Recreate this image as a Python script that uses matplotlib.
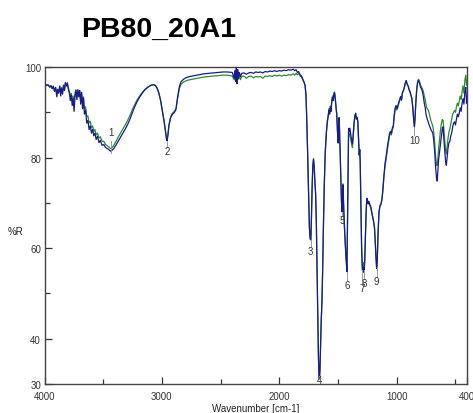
import numpy as np
import matplotlib
matplotlib.use("Agg")
import matplotlib.pyplot as plt
from matplotlib.ticker import FixedLocator

plt.rcParams['font.family'] = ['Liberation Sans', 'DejaVu Sans']

# --- spectrum data: wavenumber [cm-1] and %R for the two traces ---
wn_a = [4000, 3985, 3970, 3955, 3945, 3935, 3925, 3915, 3905, 3895, 3888, 3880, 3870, 3862, 3855, 3846,
        3838, 3830, 3822, 3812, 3805, 3796, 3788, 3780, 3772, 3764, 3756, 3748, 3740, 3732, 3724, 3716,
        3708, 3700, 3692, 3684, 3676, 3668, 3660, 3650, 3640, 3630, 3620, 3610, 3600, 3590, 3580, 3570,
        3560, 3548, 3536, 3524, 3510, 3495, 3480, 3465, 3450, 3437, 3425, 3410, 3390, 3370, 3350, 3330,
        3310, 3290, 3270, 3250, 3230, 3210, 3190, 3170, 3150, 3130, 3110, 3090, 3070, 3055, 3040, 3025]
blue_a = [96.2, 96.0, 96.1, 95.6, 95.9, 95.2, 95.8, 94.6, 95.5, 93.4, 95.0, 94.2, 95.8, 93.6, 95.4, 94.0,
          96.0, 94.8, 96.6, 95.8, 96.5, 95.0, 94.2, 92.6, 93.8, 91.5, 93.0, 90.2, 93.6, 94.8, 92.8, 94.9,
          93.4, 94.8, 91.8, 94.4, 90.8, 93.2, 89.6, 90.5, 87.6, 88.2, 86.2, 87.0, 85.4, 86.2, 84.8, 85.4,
          84.0, 84.7, 83.3, 83.8, 82.7, 82.9, 82.2, 82.0, 81.7, 81.4, 81.6, 82.0, 82.8, 83.7, 84.6, 85.5,
          86.4, 87.4, 88.6, 90.0, 91.3, 92.4, 93.3, 94.1, 94.8, 95.3, 95.7, 96.0, 96.1, 95.9, 95.3, 94.2]
green_a = [96.0, 95.9, 96.0, 95.5, 95.8, 95.3, 95.6, 94.9, 95.4, 94.0, 95.1, 94.5, 95.6, 94.2, 95.2, 94.6,
           95.8, 95.0, 96.3, 95.9, 96.2, 95.3, 94.6, 93.4, 94.2, 92.8, 93.6, 92.0, 94.2, 95.0, 93.6, 95.0,
           94.0, 94.8, 92.8, 94.3, 92.0, 93.4, 90.8, 91.2, 89.0, 89.2, 87.6, 88.0, 86.6, 87.0, 85.8, 86.2,
           85.0, 85.4, 84.3, 84.6, 83.6, 83.6, 82.9, 82.6, 82.3, 82.0, 82.2, 82.7, 83.6, 84.6, 85.5, 86.4,
           87.3, 88.3, 89.4, 90.7, 91.8, 92.8, 93.6, 94.3, 94.9, 95.4, 95.7, 96.0, 96.1, 95.9, 95.3, 94.2]

wn_b = [3010, 2995, 2980, 2970, 2962, 2955, 2948, 2940, 2925, 2910, 2895, 2880, 2865, 2850, 2835, 2815,
        2790, 2760, 2720, 2680, 2640, 2600, 2560, 2520, 2480, 2440, 2400, 2385, 2378, 2372, 2366, 2360,
        2354, 2348, 2340, 2330, 2320, 2300, 2280, 2260, 2240, 2220, 2200, 2180, 2160, 2140, 2120, 2100,
        2080, 2060, 2040, 2020, 2000, 1980, 1960, 1940, 1920, 1900, 1880, 1868, 1856, 1845, 1835, 1822,
        1810, 1800, 1790]
blue_b = [92.5, 90.2, 87.8, 85.8, 84.3, 83.7, 85.0, 87.0, 88.8, 89.6, 89.9, 90.6, 93.5, 95.8, 96.8, 97.3,
          97.7, 97.9, 98.1, 98.3, 98.5, 98.6, 98.7, 98.8, 98.9, 98.9, 98.8, 97.6, 99.2, 96.8, 100.6, 96.3,
          99.4, 97.5, 98.8, 97.9, 98.6, 98.7, 98.4, 98.7, 98.8, 98.6, 98.9, 98.8, 98.9, 98.7, 99.0, 98.9,
          99.1, 99.0, 99.2, 99.0, 99.2, 99.1, 99.3, 99.2, 99.4, 99.3, 99.5, 99.2, 99.4, 98.8, 99.0, 98.3,
          98.0, 97.4, 96.8]
green_b = [92.5, 90.3, 87.9, 86.0, 84.6, 84.0, 85.2, 87.2, 89.0, 89.8, 90.2, 90.8, 93.2, 95.3, 96.2, 96.7,
           97.0, 97.2, 97.4, 97.6, 97.8, 97.9, 98.0, 98.1, 98.2, 98.2, 98.0, 97.2, 98.4, 96.9, 99.3, 96.8,
           98.5, 97.3, 98.0, 97.2, 97.9, 98.0, 97.5, 97.9, 98.0, 97.6, 97.9, 97.8, 97.9, 97.5, 98.0, 97.9,
           98.1, 97.9, 98.2, 98.0, 98.2, 98.0, 98.2, 98.1, 98.3, 98.2, 98.5, 98.2, 98.6, 98.3, 98.6, 98.0,
           97.8, 97.2, 96.6]

wn_c = [1780, 1772, 1765, 1758, 1750, 1743, 1736, 1731, 1726, 1720, 1714, 1708, 1702, 1696, 1690, 1684,
        1678, 1672, 1666, 1661, 1657, 1653, 1648, 1642, 1636, 1630, 1624, 1616, 1608, 1598, 1590, 1582,
        1575, 1570, 1565, 1558, 1552, 1546, 1540, 1534, 1528, 1522, 1516, 1510, 1504, 1498, 1494, 1490,
        1486, 1480, 1474, 1470, 1466, 1462, 1457, 1451, 1445, 1437, 1430, 1423, 1416, 1409, 1405, 1398,
        1390, 1382, 1376, 1370, 1362, 1355, 1349, 1342, 1336, 1330, 1324, 1318, 1314, 1310, 1304, 1298,
        1292, 1287, 1282, 1277, 1272, 1266, 1260, 1254, 1248, 1242, 1236, 1228, 1220, 1212, 1204, 1196,
        1188, 1182, 1176, 1170, 1165, 1158, 1150, 1142, 1134, 1126, 1118, 1108, 1098, 1088, 1078, 1068,
        1060, 1052, 1044, 1036, 1028, 1020]
blue_c = [96.0, 93.8, 88.0, 81.0, 72.0, 64.5, 62.0, 61.8, 66.0, 73.0, 78.0, 79.6, 78.0, 74.5, 72.0, 66.0,
          56.0, 45.0, 36.0, 31.5, 31.0, 33.0, 38.0, 44.0, 48.0, 55.0, 64.0, 74.0, 81.0, 85.5, 87.8, 89.2,
          90.4, 89.6, 91.0, 90.2, 92.4, 93.2, 92.6, 94.0, 94.2, 92.8, 91.0, 89.6, 86.0, 83.2, 85.5, 88.8,
          86.0, 80.0, 74.5, 70.5, 68.0, 71.0, 73.9, 69.0, 65.0, 60.7, 57.5, 54.8, 70.0, 86.4, 85.8, 86.5,
          85.0, 83.6, 83.0, 85.0, 87.8, 89.3, 89.8, 88.6, 88.9, 88.0, 84.0, 80.6, 81.8, 79.0, 70.0, 60.0,
          55.2, 54.6, 55.8, 55.2, 56.5, 62.0, 67.5, 71.0, 70.6, 69.8, 70.3, 69.6, 69.2, 68.0, 67.0, 66.0,
          64.5, 61.5, 58.0, 55.5, 57.0, 63.0, 67.8, 69.2, 69.6, 70.5, 72.5, 76.0, 78.8, 80.5, 82.5, 84.0,
          85.3, 85.8, 85.4, 86.6, 87.0, 89.5]
green_c = [96.0, 93.8, 88.2, 81.2, 72.2, 64.7, 62.2, 62.0, 66.2, 73.2, 78.2, 79.8, 78.2, 74.6, 72.1, 66.2,
           56.2, 45.2, 36.2, 31.8, 31.3, 33.2, 38.2, 44.2, 48.2, 55.2, 64.2, 74.2, 81.2, 85.8, 88.2, 89.6,
           90.8, 90.0, 91.4, 90.6, 92.8, 93.6, 93.0, 94.4, 94.5, 93.0, 91.2, 89.6, 86.0, 83.4, 85.6, 88.8,
           86.2, 80.2, 74.8, 71.0, 68.6, 71.5, 74.2, 69.4, 65.3, 61.0, 57.8, 55.2, 70.2, 85.6, 84.8, 85.2,
           84.0, 82.8, 82.2, 84.4, 87.4, 89.1, 89.6, 88.4, 88.7, 87.8, 83.8, 80.5, 81.6, 79.0, 70.2, 60.5,
           56.0, 55.6, 56.8, 56.2, 57.2, 62.4, 67.6, 71.0, 70.6, 69.8, 70.2, 69.4, 69.0, 67.8, 66.8, 65.8,
           64.4, 61.4, 58.0, 55.8, 57.2, 63.2, 68.0, 69.4, 69.8, 70.6, 72.4, 75.6, 78.2, 79.8, 81.8, 83.4,
           84.8, 85.4, 85.0, 86.2, 86.6, 89.0]

wn_d = [1012, 1004, 998, 990, 982, 974, 966, 958, 950, 942, 934, 926, 918, 910, 902, 894,
        886, 878, 870, 862, 855, 848, 843, 836, 828, 820, 812, 804, 796, 788, 780, 772,
        764, 756, 748, 740, 732, 724, 716, 708, 700, 692, 684, 676, 668, 660, 654, 648,
        642, 634, 626, 618, 610, 604, 598, 590, 582, 576, 570, 562, 554, 546, 538, 530,
        522, 514, 506, 498, 490, 482, 474, 466, 458, 450, 442, 434, 426, 418, 410, 404, 400]
blue_d = [91.0, 91.5, 90.8, 91.4, 92.2, 92.8, 93.5, 92.8, 94.4, 94.8, 95.5, 96.5, 97.0, 96.2, 95.8, 95.0,
          94.5, 93.8, 93.0, 91.0, 88.5, 86.8, 88.5, 92.0, 95.0, 96.6, 97.0, 96.4, 95.5, 95.2, 94.6, 93.5,
          92.0, 91.0, 89.4, 88.6, 88.0, 87.3, 86.8, 86.2, 85.8, 85.5, 84.0, 81.5, 78.0, 75.5, 74.8, 77.0,
          79.5, 81.3, 83.0, 85.0, 86.5, 86.8, 84.5, 81.5, 79.0, 78.3, 80.0, 82.0, 83.3, 83.6, 84.8, 85.5,
          86.8, 87.6, 87.9, 87.2, 88.5, 89.6, 89.0, 89.8, 91.0, 90.2, 92.0, 93.0, 91.8, 94.6, 95.5, 92.0, 93.5]
green_d = [90.6, 91.2, 90.5, 91.0, 91.8, 92.5, 93.2, 92.6, 94.2, 94.7, 95.4, 96.4, 97.0, 96.3, 95.9, 95.2,
           94.6, 93.9, 93.2, 91.2, 88.8, 87.0, 88.8, 92.4, 95.4, 97.0, 97.3, 96.8, 96.0, 95.6, 95.2, 94.6,
           93.6, 92.8, 91.5, 90.8, 90.6, 90.0, 89.0, 88.2, 87.6, 87.0, 85.8, 83.5, 80.5, 78.6, 78.2, 79.8,
           82.0, 84.0, 86.0, 87.6, 88.4, 88.2, 86.5, 83.8, 81.5, 80.8, 82.2, 84.2, 85.6, 86.4, 87.5, 88.6,
           89.6, 90.0, 90.4, 90.0, 91.2, 92.0, 91.4, 92.5, 93.6, 92.8, 94.6, 95.8, 94.2, 97.2, 98.2, 96.0, 97.0]

wavenumber = wn_a + wn_b + wn_c + wn_d
blue_R = blue_a + blue_b + blue_c + blue_d
green_R = green_a + green_b + green_c + green_d
assert len(wavenumber) == len(blue_R) == len(green_R)

# --- numbered peak markers: peak position, marker tip, label position ---
peak_labels = ["1", "2", "3", "4", "5", "6", "7", "8", "9", "10"]
peak_wn = [3437, 2955, 1731, 1657, 1466, 1423, 1292, 1277, 1170, 848]
peak_R = [81.4, 83.7, 61.8, 31.0, 68.0, 54.8, 55.2, 55.2, 55.5, 86.8]
label_R = [84.6, 81.4, 59.4, 30.8, 66.2, 51.9, 51.3, 52.2, 52.7, 83.9]

x_major = [4000, 3000, 2000, 1000, 400]
x_minor = [3500, 2500, 1500, 500]
y_major = [30, 40, 60, 80, 100]
y_minor = [50, 70, 90]

fig = plt.figure(figsize=(4.73, 4.14), dpi=100)
ax = fig.add_axes([44.5 / 473, 1 - 385 / 414, (467 - 44.5) / 473, (385 - 68) / 414])

ax.plot(wavenumber, green_R, color='#2e8b2e', lw=0.9, zorder=2)
ax.plot(wavenumber, blue_R, color='#1a1a8a', lw=0.9, zorder=3)

for lab, pw, pr, lr in zip(peak_labels, peak_wn, peak_R, label_R):
    if lr > pr:
        ax.plot([pw, pw], [pr - 0.4, lr - 1.0], color='#999999', lw=0.7, zorder=4)
        ax.text(pw, lr, lab, ha='center', va='bottom', fontsize=7, color='#333333', zorder=5)
    else:
        ax.plot([pw, pw], [pr, lr + 1.0], color='#999999', lw=0.7, zorder=4)
        ax.text(pw, lr, lab, ha='center', va='center', fontsize=7, color='#333333', zorder=5)

ax.set_xlim(4000, 400)
ax.set_ylim(30, 100)

ax.xaxis.set_major_locator(FixedLocator(x_major))
ax.xaxis.set_minor_locator(FixedLocator(x_minor))
ax.yaxis.set_major_locator(FixedLocator(y_major))
ax.yaxis.set_minor_locator(FixedLocator(y_minor))
ax.set_xticklabels([str(v) for v in x_major])
ax.set_yticklabels([str(v) for v in y_major])

ax.tick_params(which='both', direction='in', colors='#333333', labelsize=7,
               width=0.9, top=False, right=False)
ax.tick_params(which='major', length=5, pad=2.5)
ax.tick_params(axis='x', which='major', pad=5.2)
ax.tick_params(which='minor', length=3.5)

for s in ax.spines.values():
    s.set_color('#444444')
    s.set_linewidth(1.0)

ax.set_xlabel('Wavenumber [cm-1]', fontsize=7, color='#222222', labelpad=1.5)
fig.text(15.5 / 473, 1 - 232 / 414, '%R', fontsize=7, color='#222222', ha='center', va='center')

fig.text(158.5 / 473, 1 - 37 / 414, 'PB80_20A1', fontsize=20.5, fontweight='bold',
         ha='center', va='baseline', color='black')

fig.savefig('out.png', dpi=100)
